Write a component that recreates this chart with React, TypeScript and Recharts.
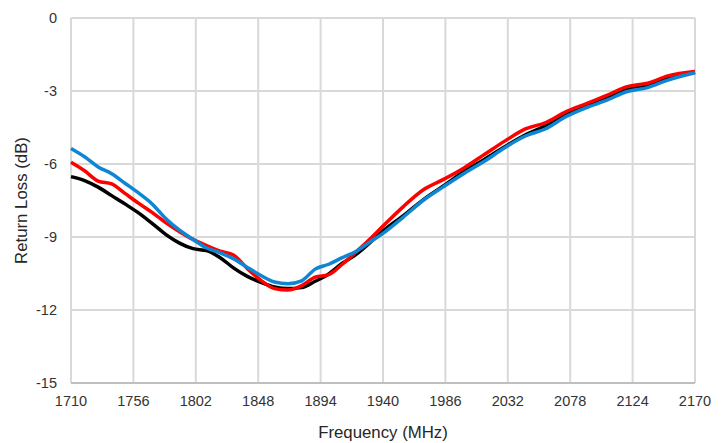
import { LineChart, Line, XAxis, YAxis, CartesianGrid } from 'recharts'

document.body.style.margin = '0'

const FREQS = [
  1710, 1720, 1730, 1740, 1750, 1760, 1770, 1780, 1790, 1800, 1810, 1820, 1830, 1840, 1850, 1860,
  1870, 1880, 1890, 1900, 1910, 1920, 1930, 1940, 1955, 1970, 1985, 2000, 2015, 2030, 2045, 2060,
  2075, 2090, 2105, 2120, 2135, 2150, 2170,
]

const BLACK = [
  -6.52, -6.68, -6.95, -7.3, -7.65, -8.02, -8.45, -8.9, -9.25, -9.48, -9.56, -9.85, -10.28, -10.62,
  -10.86, -11.05, -11.12, -11.08, -10.82, -10.52, -10.08, -9.72, -9.25, -8.75, -8.12, -7.45, -6.88,
  -6.3, -5.8, -5.28, -4.8, -4.42, -3.95, -3.58, -3.25, -2.95, -2.75, -2.48, -2.23,
]

const RED = [
  -5.93, -6.28, -6.7, -6.82, -7.22, -7.62, -8.0, -8.42, -8.78, -9.1, -9.35, -9.58, -9.75, -10.3,
  -10.78, -11.12, -11.18, -11.0, -10.65, -10.55, -10.12, -9.62, -9.1, -8.55, -7.75, -7.05, -6.62,
  -6.15, -5.6, -5.05, -4.56, -4.3, -3.85, -3.52, -3.18, -2.82, -2.68, -2.38, -2.2,
]

const BLUE = [
  -5.36, -5.7, -6.12, -6.4, -6.8, -7.2, -7.65, -8.25, -8.72, -9.1, -9.45, -9.65, -9.9, -10.25,
  -10.58, -10.85, -10.92, -10.8, -10.32, -10.12, -9.85, -9.6, -9.22, -8.85, -8.18, -7.48, -6.92,
  -6.38, -5.88, -5.32, -4.85, -4.55, -4.05, -3.68, -3.38, -3.02, -2.86, -2.55, -2.25,
]

const X_TICKS = [1710, 1756, 1802, 1848, 1894, 1940, 1986, 2032, 2078, 2124, 2170]
const Y_TICKS = [0, -3, -6, -9, -12, -15]

const data = FREQS.map((f, i) => ({ f, black: BLACK[i], red: RED[i], blue: BLUE[i] }))

const FONT = 'Liberation Sans, Arial, sans-serif'
const tickStyle = { fontSize: 14.5, fill: '#333333', fontFamily: FONT }
const labelStyle = { fontSize: 16.8, fill: '#262626', fontFamily: FONT }

export default function App() {
  return (
    <div style={{ width: 728, height: 443, background: '#fff' }}>
      <LineChart width={728} height={443} data={data} margin={{ top: 18, right: 33, left: 0, bottom: 0 }}>
        <CartesianGrid stroke="#d9d9d9" strokeWidth={2} horizontal vertical />
        <XAxis
          dataKey="f"
          type="number"
          domain={[1710, 2170]}
          ticks={X_TICKS}
          height={60}
          tick={tickStyle}
          tickLine={false}
          tickMargin={7}
          axisLine={{ stroke: '#bfbfbf', strokeWidth: 2 }}
          label={{ value: 'Frequency (MHz)', position: 'insideBottom', offset: 5, style: labelStyle }}
        />
        <YAxis
          type="number"
          domain={[-15, 0]}
          ticks={Y_TICKS}
          width={71}
          tick={tickStyle}
          tickLine={false}
          tickMargin={8}
          axisLine={false}
          label={{
            value: 'Return Loss (dB)',
            angle: -90,
            position: 'insideLeft',
            offset: 21,
            style: { ...labelStyle, textAnchor: 'middle' },
          }}
        />
        <Line type="monotone" dataKey="black" stroke="#000000" strokeWidth={3.5} dot={false} isAnimationActive={false} />
        <Line type="monotone" dataKey="red" stroke="#ff0000" strokeWidth={3.5} dot={false} isAnimationActive={false} />
        <Line type="monotone" dataKey="blue" stroke="#0e86d4" strokeWidth={3.5} dot={false} isAnimationActive={false} />
      </LineChart>
    </div>
  )
}
